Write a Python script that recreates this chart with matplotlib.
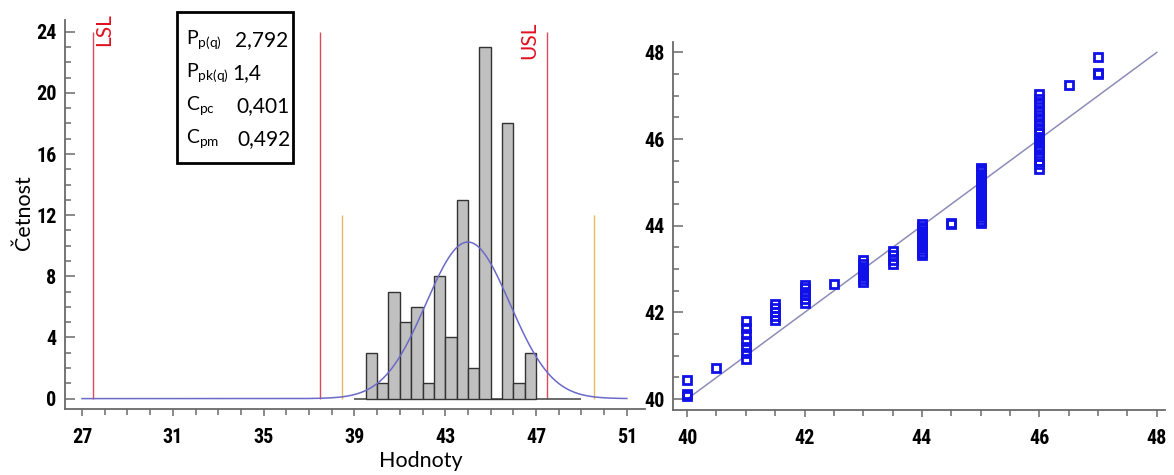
import matplotlib
matplotlib.use("Agg")
import matplotlib.pyplot as plt
import numpy as np
from matplotlib.patches import Rectangle
from matplotlib.ticker import MultipleLocator

# histogram of measured values (bin width 0.5)
bin_starts = [39.5, 40.0, 40.5, 41.0, 41.5, 42.0, 42.5, 43.0, 43.5, 44.0,
              44.5, 45.0, 45.5, 46.0, 46.5]
bin_counts = [3, 1, 7, 5, 6, 1, 8, 4, 13, 2, 23, 0, 18, 1, 3]
bin_width = 0.5

# fitted normal curve
fit_mean = 44.0
fit_sigma = 1.85

# specification limits and process spread
lsl = 27.5
nominal = 37.5
usl = 47.5
spread_low = 38.45
spread_high = 49.55

# capability indices
index_labels = [r"$\mathregular{P_{p(q)}}$", r"$\mathregular{P_{pk(q)}}$",
                r"$\mathregular{C_{pc}}$", r"$\mathregular{C_{pm}}$"]
index_values = ["2,792", "1,4", "0,401", "0,492"]

# probability plot: measured level vs. quantile
prob_levels = [40, 40.5, 41, 41.5, 42, 42.5, 43, 43.5, 44, 44.5, 45, 46, 46.5, 47]
prob_values = [
    [40.08, 40.12, 40.45],
    [40.72],
    [40.92, 41.06, 41.2, 41.35, 41.5, 41.65, 41.8],
    [41.82, 41.92, 42.0, 42.1, 42.2],
    [42.22, 42.3, 42.4, 42.48, 42.56, 42.64],
    [42.66],
    [42.7, 42.77, 42.84, 42.91, 42.98, 43.05, 43.12, 43.2],
    [43.12, 43.22, 43.32, 43.42],
    [43.32, 43.38, 43.44, 43.5, 43.56, 43.62, 43.68, 43.74, 43.8, 43.86,
     43.92, 43.98, 44.04],
    [44.04, 44.07],
    [44.06, 44.12, 44.18, 44.24, 44.3, 44.36, 44.42, 44.48, 44.54, 44.6,
     44.66, 44.72, 44.78, 44.84, 44.9, 44.96, 45.02, 45.08, 45.14, 45.2,
     45.26, 45.3, 45.34],
    [45.32, 45.42, 45.5, 45.62, 45.75, 45.85, 45.92, 45.98, 46.05, 46.14,
     46.22, 46.32, 46.45, 46.55, 46.68, 46.8, 46.92, 47.05],
    [47.25],
    [47.5, 47.53, 47.9],
]

tick_font = ["Liberation Sans Narrow", "DejaVu Sans Condensed", "Roboto Condensed",
             "Liberation Sans"]
text_font = ["Lato", "DejaVu Sans"]

plt.rcParams["mathtext.fontset"] = "custom"
plt.rcParams["mathtext.rm"] = "Lato"

fig = plt.figure(figsize=(11.74, 4.75), dpi=100)
W, H = 1174, 475


def px_axes(x0, y0, x1, y1):
    return fig.add_axes([x0 / W, 1 - y1 / H, (x1 - x0) / W, (y1 - y0) / H])


def style_axes(ax, xmaj, xmin, ymaj, ymin, xoff=0.0):
    for side in ("top", "right"):
        ax.spines[side].set_visible(False)
    for side in ("left", "bottom"):
        ax.spines[side].set_color("#6a6a6a")
        ax.spines[side].set_linewidth(1.3)
    ax.xaxis.set_major_locator(MultipleLocator(xmaj, offset=xoff))
    ax.xaxis.set_minor_locator(MultipleLocator(xmin))
    ax.yaxis.set_major_locator(MultipleLocator(ymaj))
    ax.yaxis.set_minor_locator(MultipleLocator(ymin))
    ax.tick_params(axis="both", which="major", labelsize=14.5,
                   labelfontfamily=tick_font)
    ax.tick_params(axis="y", which="both", direction="in", color="#6a6a6a", width=1.1, pad=6)
    ax.tick_params(axis="y", which="major", length=7)
    ax.tick_params(axis="y", which="minor", length=4)
    ax.tick_params(axis="x", which="both", direction="out", color="#6a6a6a", width=1.1, pad=9)
    ax.tick_params(axis="x", which="major", length=5)
    ax.tick_params(axis="x", which="minor", length=4)
    for lab in ax.get_xticklabels() + ax.get_yticklabels():
        lab.set_fontweight("bold")


# left: histogram with limits
ax1 = px_axes(65, 20, 645, 409)
ax1.set_xlim(26.25, 51.8)
ax1.set_ylim(-0.68, 24.77)

ax1.vlines([lsl, nominal, usl], 0, 24, color="#e0485c", linewidth=1.0, zorder=1)
ax1.vlines([spread_low, spread_high], 0, 12, color="#e8b860", linewidth=1.0, zorder=1)
ax1.hlines(0, 39, 49, color="#505050", linewidth=1.2, zorder=2)
ax1.bar(bin_starts, bin_counts, width=bin_width, align="edge",
        color="#c0c0c0", edgecolor="#333333", linewidth=1.0, zorder=3)

xs = np.linspace(27, 51, 600)
n_total = sum(bin_counts)
curve = n_total * bin_width / (fit_sigma * np.sqrt(2 * np.pi)) * np.exp(-0.5 * ((xs - fit_mean) / fit_sigma) ** 2)
ax1.plot(xs, curve, color="#6a6ac8", linewidth=1.1, zorder=4)

ax1.text(27.98, 25.25, "LSL", rotation=90, ha="center", va="top", color="#e01020",
         fontsize=15, family=text_font, clip_on=False)
ax1.text(46.72, 24.65, "USL", rotation=90, ha="center", va="top", color="#e01020",
         fontsize=15, family=text_font)

style_axes(ax1, 4, 1, 4, 1, xoff=3)

# capability index box
fig.patches.append(Rectangle((177 / W, 1 - 163 / H), 116 / W, 151 / H,
                             transform=fig.transFigure, fill=False,
                             edgecolor="black", linewidth=2.0))
row_y = [40, 73, 106, 139]
value_x = [235, 232, 236, 237]
for lab, val, y, vx in zip(index_labels, index_values, row_y, value_x):
    fig.text(186 / W, 1 - y / H, lab, ha="left", va="center", fontsize=14, family=text_font)
    fig.text(vx / W, 1 - y / H, val, ha="left", va="center", fontsize=15, family=text_font)

fig.text(24 / W, 1 - 213 / H, "Četnost", rotation=90, ha="center", va="center",
         fontsize=15.5, family=text_font)
fig.text(421 / W, 1 - 461 / H, "Hodnoty", ha="center", va="center",
         fontsize=15.5, family=text_font)

# right: probability plot
ax2 = px_axes(673, 42, 1165, 410)
ax2.set_xlim(39.76, 48.14)
ax2.set_ylim(39.75, 48.24)
ax2.plot([40, 48], [40, 48], color="#8c8cb8", linewidth=1.1, zorder=2)
for level, vals in zip(prob_levels, prob_values):
    ax2.plot([level] * len(vals), vals, linestyle="none", marker="s", markersize=5.5,
             markerfacecolor="none", markeredgecolor="#1010e8", markeredgewidth=2.0, zorder=3)
style_axes(ax2, 2, 0.5, 2, 0.5)

fig.savefig("out.png", dpi=100)
